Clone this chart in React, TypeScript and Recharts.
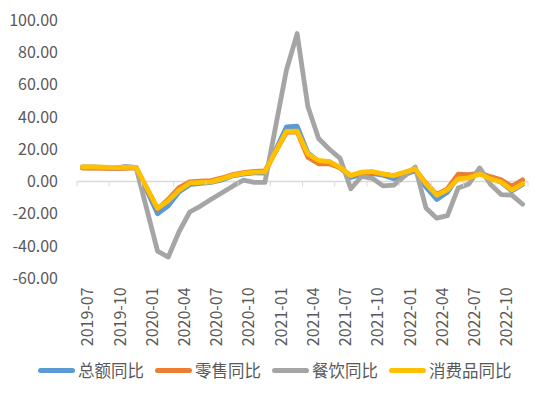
import React from 'react';
import {LineChart, Line, XAxis, YAxis, ReferenceLine} from 'recharts';

// 月份（2019-07 ~ 2022-12），每年1月为空值（1-2月合并公布）
const months = [
    '2019-07', '2019-08', '2019-09', '2019-10', '2019-11', '2019-12',
    '2020-01', '2020-02', '2020-03', '2020-04', '2020-05', '2020-06',
    '2020-07', '2020-08', '2020-09', '2020-10', '2020-11', '2020-12',
    '2021-01', '2021-02', '2021-03', '2021-04', '2021-05', '2021-06',
    '2021-07', '2021-08', '2021-09', '2021-10', '2021-11', '2021-12',
    '2022-01', '2022-02', '2022-03', '2022-04', '2022-05', '2022-06',
    '2022-07', '2022-08', '2022-09', '2022-10', '2022-11', '2022-12',
];

const totalYoy = [
    8.6, 8.5, 8.7, 8.2, 8.8, 8.8,
    null, -20.0, -15.0, -6.5, -2.0, -1.2, -0.6, 1.0, 3.5, 4.6, 5.3, 5.2,
    null, 33.8, 34.2, 17.7, 12.4, 12.1, 8.5, 2.5, 4.4, 4.9, 3.9, 1.7,
    null, 6.7, -3.5, -11.1, -6.7, 3.1, 2.7, 5.4, 2.5, -0.5, -5.9, -1.8,
];

const retailYoy = [
    8.3, 8.3, 8.2, 8.0, 8.2, 8.4,
    null, -17.0, -11.0, -3.8, -0.2, 0.2, 0.5, 2.2, 4.3, 5.5, 6.3, 6.5,
    null, 30.5, 30.8, 15.0, 11.0, 11.0, 8.5, 3.5, 5.5, 5.5, 4.5, 3.5,
    null, 7.5, -1.0, -8.0, -4.5, 4.5, 4.3, 5.2, 3.0, 1.0, -3.0, 1.0,
];

const cateringYoy = [
    9.1, 9.0, 8.8, 8.1, 9.4, 8.8,
    null, -43.1, -46.8, -31.1, -18.9, -15.2, -11.0, -7.0, -2.9, 0.8, -0.6, -0.6,
    null, 68.9, 91.6, 46.4, 26.6, 20.0, 14.3, -4.5, 3.1, 2.0, -2.7, -2.2,
    null, 8.9, -16.4, -22.7, -21.1, -4.0, -1.5, 8.4, -1.7, -8.1, -8.4, -14.1,
];

const goodsYoy = [
    9.0, 9.0, 8.9, 8.6, 8.8, 8.8,
    null, -16.5, -12.0, -5.5, -1.0, -0.6, -0.2, 1.6, 3.8, 5.0, 5.8, 6.0,
    null, 31.0, 31.2, 17.0, 13.0, 12.3, 8.8, 3.7, 5.8, 6.2, 4.7, 3.7,
    null, 7.8, -1.4, -8.5, -5.2, 1.6, 2.3, 4.7, 1.6, -0.4, -5.2, -1.4,
];

const yTicks = [-60, -40, -20, 0, 20, 40, 60, 80, 100];

const series = [
    {key: 'total', name: '总额同比', color: '#5B9BD5', values: totalYoy},
    {key: 'retail', name: '零售同比', color: '#ED7D31', values: retailYoy},
    {key: 'catering', name: '餐饮同比', color: '#A5A5A5', values: cateringYoy},
    {key: 'goods', name: '消费品同比', color: '#FFC000', values: goodsYoy},
];

const data = months.map((m, i) => {
    const row: Record<string, any> = {month: m};
    series.forEach(s => {
        row[s.key] = s.values[i];
    });
    return row;
});

// 布局
const WIDTH = 550;
const HEIGHT = 398;
const MARGIN = {top: 20, right: 22, bottom: 40, left: 0};
const Y_AXIS_W = 77;
const X_AXIS_H = 79.6;
const PLOT_W = WIDTH - MARGIN.left - MARGIN.right - Y_AXIS_W;
const PLOT_H = HEIGHT - MARGIN.top - MARGIN.bottom - X_AXIS_H;
const ZERO_Y = MARGIN.top + PLOT_H * (100 / 160);
const FONT = '"Noto Sans CJK SC", "Noto Sans", sans-serif';
const TEXT_COLOR = '#595959';
const AXIS_COLOR = '#D9D9D9';

// 横轴：刻度线画在零线上，标签竖排
function MonthTick(props: any) {
    const {x, payload, index} = props;
    const band = PLOT_W / months.length;
    const labelY = MARGIN.top + PLOT_H + 9;
    const marks = [];
    if (index % 3 === 0) {
        const tx = x - band / 2;
        marks.push(<line key="t" x1={tx} x2={tx} y1={ZERO_Y} y2={ZERO_Y + 5} stroke={AXIS_COLOR} strokeWidth={1}/>);
        const lx = x + 11;
        marks.push(
            <text key="l" x={lx} y={labelY} transform={`rotate(-90 ${lx} ${labelY})`}
                  textAnchor="end" fontSize={16} fill={TEXT_COLOR} fontFamily={FONT}>
                {payload.value}
            </text>
        );
    }
    if (index === months.length - 1) {
        const tx = x + band / 2;
        marks.push(<line key="e" x1={tx} x2={tx} y1={ZERO_Y} y2={ZERO_Y + 5} stroke={AXIS_COLOR} strokeWidth={1}/>);
    }
    return <g>{marks}</g>;
}

function LegendRow() {
    return (
        <div style={{
            position: 'absolute', left: 38, top: 358, display: 'flex',
            fontFamily: FONT, fontSize: 16.5, color: TEXT_COLOR, lineHeight: '24px',
        }}>
            {series.map(s => (
                <div key={s.key} style={{display: 'flex', alignItems: 'center', marginRight: 11}}>
                    <span style={{
                        display: 'inline-block', width: 37, height: 5, borderRadius: 3,
                        background: s.color, marginRight: 3,
                    }}/>
                    <span>{s.name}</span>
                </div>
            ))}
        </div>
    );
}

export default function App() {
    return (
        <div style={{position: 'fixed', left: 0, top: 0, width: WIDTH, height: HEIGHT, background: '#fff'}}>
            <LineChart width={WIDTH} height={HEIGHT} data={data} margin={MARGIN}>
                <XAxis
                    dataKey="month"
                    scale="band"
                    interval={0}
                    height={X_AXIS_H}
                    axisLine={false}
                    tickLine={false}
                    tick={<MonthTick/>}
                />
                <YAxis
                    width={Y_AXIS_W}
                    domain={[-60, 100]}
                    ticks={yTicks}
                    interval={0}
                    axisLine={false}
                    tickLine={false}
                    tickSize={0}
                    tickMargin={19}
                    tickFormatter={(v: number) => v.toFixed(2)}
                    tick={{fill: TEXT_COLOR, fontSize: 16, fontFamily: FONT}}
                />
                <ReferenceLine y={0} stroke={AXIS_COLOR} strokeWidth={1.5}/>
                {series.map(s => (
                    <Line
                        key={s.key}
                        type="linear"
                        dataKey={s.key}
                        name={s.name}
                        stroke={s.color}
                        strokeWidth={4.8}
                        strokeLinejoin="round"
                        strokeLinecap="round"
                        dot={false}
                        activeDot={false}
                        connectNulls
                        isAnimationActive={false}
                    />
                ))}
            </LineChart>
            <LegendRow/>
        </div>
    );
}
